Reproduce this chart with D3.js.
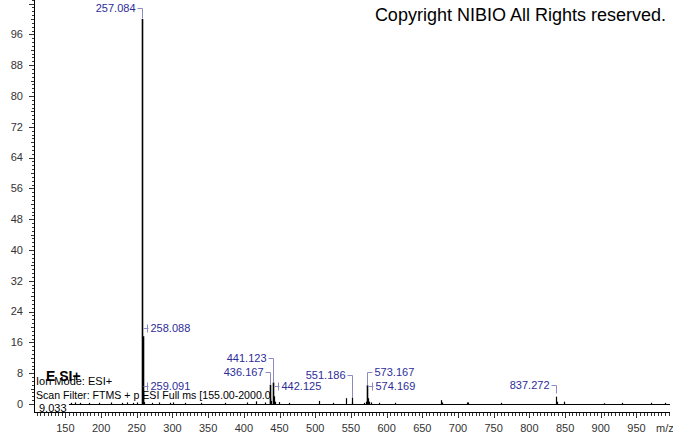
<!DOCTYPE html>
<html>
<head>
<meta charset="utf-8">
<script src="https://cdn.jsdelivr.net/npm/d3@7"></script>
<style>
  body { margin: 0; background: #fff; }
  svg { display: block; font-family: "Liberation Sans", Arial, sans-serif; }
</style>
</head>
<body>
<div id="chart"></div>
<script>
// spectrum sticks (m/z, relative abundance)
var peakMz  = [158, 164, 171, 183, 197, 214, 229, 236, 245, 250, 257.084, 258.088, 259.091, 260.1, 272, 281, 296, 301, 318, 340, 374, 405, 417, 430,
               436.167, 437.17, 438.1, 441.123, 442.125, 443.13, 449, 463, 505, 525, 543.2, 551.186, 552.19, 568, 571, 573.167, 574.169, 575.17, 578,
               590, 612, 676, 677.2, 712, 714, 760, 837.272, 838.3, 849, 905, 930, 970, 990];
var peakInt = [0.3, 0.4, 0.3, 0.3, 0.3, 0.4, 0.3, 0.4, 0.3, 0.4, 100, 17.6, 2.4, 0.5, 0.3, 0.4, 0.3, 0.4, 0.3, 0.3, 0.3, 0.4, 0.7, 0.4,
               5.0, 1.5, 0.8, 5.6, 2.0, 0.6, 0.5, 0.3, 0.8, 0.3, 1.5, 1.7, 0.5, 0.3, 0.6, 4.9, 1.5, 0.6, 0.4,
               0.3, 0.3, 1.0, 0.4, 0.4, 0.4, 0.3, 1.9, 0.6, 0.6, 0.2, 0.3, 0.3, 0.3];

// annotated peaks
var labelMz   = [257.084, 258.088, 259.091, 441.123, 436.167, 442.125, 551.186, 573.167, 574.169, 837.272];
var labelText = ["257.084", "258.088", "259.091", "441.123", "436.167", "442.125", "551.186", "573.167", "574.169", "837.272"];

var yTicks = [0, 8, 16, 24, 32, 40, 48, 56, 64, 72, 80, 88, 96];
var xTicks = [150, 200, 250, 300, 350, 400, 450, 500, 550, 600, 650, 700, 750, 800, 850, 900, 950];

// label layout: label y (px), side of the peak, connector drop to peak
var labelLayout = {
	"257.084": { y: 8,   side: "left",  drop: 10 },
	"258.088": { y: 328, side: "right", drop: 0 },
	"259.091": { y: 386, side: "right", drop: 0 },
	"441.123": { y: 358, side: "left",  drop: 24 },
	"436.167": { y: 372, side: "left",  drop: 12 },
	"442.125": { y: 386, side: "right", drop: 0 },
	"551.186": { y: 375, side: "left",  drop: 22 },
	"573.167": { y: 372, side: "right", drop: 13 },
	"574.169": { y: 386, side: "right", drop: 0 },
	"837.272": { y: 385, side: "left",  drop: 8 }
};

var width = 673,
	height = 433,
	svg, x, y;

function init() {
	svg = d3.select("#chart")
		.append("svg")
		.attr("width", width)
		.attr("height", height);

	x = d3.scaleLinear().domain([106, 997]).range([34, 670]);
	y = d3.scaleLinear().domain([0, 100]).range([404, 19]);

	drawAxes();
	drawSpectrum();
	drawLabels();
	drawText();
}

function drawAxes() {
	// y axis line
	svg.append("line")
		.attr("x1", 34.5).attr("x2", 34.5)
		.attr("y1", 0).attr("y2", 413)
		.attr("stroke", "#000");

	// y minor ticks every 1
	var yMinor = d3.range(0, 106, 1);
	svg.append("g").selectAll("line")
		.data(yMinor)
		.enter().append("line")
		.attr("x1", function(d) { return d % 8 === 0 ? 29 : (d % 4 === 0 ? 31 : 32); })
		.attr("x2", 34)
		.attr("y1", function(d) { return Math.round(y(d)) + 0.5; })
		.attr("y2", function(d) { return Math.round(y(d)) + 0.5; })
		.attr("stroke", "#333");

	svg.append("g").selectAll("text")
		.data(yTicks)
		.enter().append("text")
		.attr("x", 23)
		.attr("y", function(d) { return y(d); })
		.attr("dy", "0.35em")
		.attr("text-anchor", "end")
		.attr("font-size", 11)
		.attr("fill", "#333")
		.text(function(d) { return d; });

	// x axis line
	svg.append("line")
		.attr("x1", 34).attr("x2", 670)
		.attr("y1", 412.5).attr("y2", 412.5)
		.attr("stroke", "#000");

	var xMinor = d3.range(110, 1000, 5);
	svg.append("g").selectAll("line")
		.data(xMinor)
		.enter().append("line")
		.attr("x1", function(d) { return Math.round(x(d)) + 0.5; })
		.attr("x2", function(d) { return Math.round(x(d)) + 0.5; })
		.attr("y1", 413)
		.attr("y2", function(d) { return d % 50 === 0 ? 418 : 416; })
		.attr("stroke", "#333");

	svg.append("g").selectAll("text")
		.data(xTicks)
		.enter().append("text")
		.attr("x", function(d) { return x(d); })
		.attr("y", 428)
		.attr("dy", "0.35em")
		.attr("text-anchor", "middle")
		.attr("font-size", 11)
		.attr("fill", "#333")
		.text(function(d) { return d; });

	svg.append("text")
		.attr("x", 656).attr("y", 428)
		.attr("dy", "0.35em")
		.attr("font-size", 11)
		.attr("fill", "#333")
		.text("m/z");
}

function drawSpectrum() {
	// baseline
	svg.append("line")
		.attr("x1", x(155)).attr("x2", 670)
		.attr("y1", y(0) + 0.5).attr("y2", y(0) + 0.5)
		.attr("stroke", "#000");

	var idx = d3.range(peakMz.length);
	svg.append("g").selectAll("line")
		.data(idx)
		.enter().append("line")
		.attr("x1", function(i) { return Math.round(x(peakMz[i])) + 0.5; })
		.attr("x2", function(i) { return Math.round(x(peakMz[i])) + 0.5; })
		.attr("y1", y(0) + 1)
		.attr("y2", function(i) { return y(peakInt[i]); })
		.attr("stroke", "#000")
		.attr("stroke-width", function(i) { return peakInt[i] > 3 ? 1.6 : 1.2; });
}

function drawLabels() {
	var g = svg.append("g");
	labelMz.forEach(function(mz, i) {
		var lay = labelLayout[labelText[i]];
		var px = Math.round(x(mz)) + 0.5;
		var ly = Math.round(lay.y) + 0.5;
		var dir = lay.side === "left" ? -1 : 1;
		var tx = px + dir * 6;
		g.append("path")
			.attr("d", "M" + (px + dir * 5) + "," + ly + "H" + px + (lay.drop ? "V" + (ly + lay.drop) : "") +
				(lay.side === "right" && !lay.drop ? "M" + (px + 4) + "," + (ly - 4) + "V" + (ly + 4) : ""))
			.attr("fill", "none")
			.attr("stroke", "#8c8cc0");
		g.append("text")
			.attr("x", tx + dir * 1)
			.attr("y", lay.y)
			.attr("dy", "0.35em")
			.attr("text-anchor", lay.side === "left" ? "end" : "start")
			.attr("font-size", 11)
			.attr("fill", "#2d2d9a")
			.text(labelText[i]);
	});
}

function drawText() {
	svg.append("text")
		.attr("x", 666).attr("y", 21)
		.attr("text-anchor", "end")
		.attr("font-size", 18)
		.attr("fill", "#000")
		.text("Copyright NIBIO All Rights reserved.");

	svg.append("clipPath").attr("id", "infoclip")
		.append("rect").attr("x", 0).attr("y", 0).attr("width", 271).attr("height", height);

	var info = svg.append("g").attr("clip-path", "url(#infoclip)");
	info.append("text")
		.attr("x", 46).attr("y", 381)
		.attr("font-size", 14)
		.attr("font-weight", "bold")
		.attr("fill", "#000")
		.text("E SI+");
	info.append("text")
		.attr("x", 36).attr("y", 385)
		.attr("font-size", 11)
		.attr("fill", "#000")
		.text("Ion Mode: ESI+");
	info.append("text")
		.attr("x", 36).attr("y", 399)
		.attr("font-size", 10.6)
		.attr("fill", "#000")
		.text("Scan Filter: FTMS + p ESI Full ms [155.00-2000.00]");
	info.append("text")
		.attr("x", 39).attr("y", 412)
		.attr("font-size", 11)
		.attr("fill", "#000")
		.text("9.033");
}

window.onload = init;
</script>
</body>
</html>
